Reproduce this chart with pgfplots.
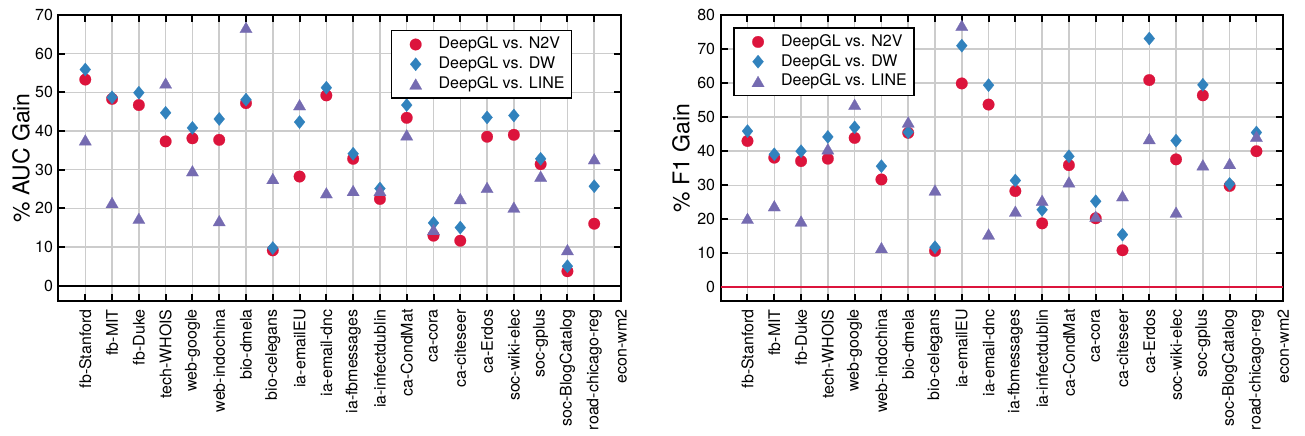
\documentclass[border=0pt]{standalone}
\usepackage{fontspec}
\setmainfont{TeX Gyre Heros}
\usepackage{pgfplots}
\usepackage{pgfplotstable}
\pgfplotsset{compat=1.18}
\definecolor{cN}{HTML}{DC143C}
\definecolor{cD}{HTML}{3182BD}
\definecolor{cL}{HTML}{756BB1}
\definecolor{gridgray}{HTML}{CCCCCC}

\pgfplotstableread{
idx n2v dw line
0 53.3 55.9 37.7
1 48.3 48.7 21.5
2 46.7 49.9 17.4
3 37.3 44.7 52.4
4 38.1 40.8 29.7
5 37.7 43.1 16.8
6 47.2 48.1 66.8
7 9.1 9.7 27.7
8 28.2 42.3 46.8
9 49.2 51.2 24.0
10 32.8 34.1 24.6
11 22.4 25.1 24.6
12 43.4 46.7 39.0
13 12.9 16.2 14.5
14 11.6 15.0 22.5
15 38.5 43.5 25.4
16 39.0 44.0 20.3
17 31.4 32.8 28.3
18 3.7 5.0 9.3
19 16.0 25.7 32.8
}\auc

\pgfplotstableread{
idx n2v dw line
0 43.0 45.9 20.3
1 38.1 39.1 24.0
2 37.1 40.0 19.5
3 37.8 44.2 40.7
4 43.9 47.0 53.8
5 31.7 35.6 11.7
6 45.4 45.6 48.6
7 10.7 11.8 28.6
8 59.9 71.0 77.0
9 53.7 59.4 15.7
10 28.3 31.4 22.4
11 18.8 22.8 25.6
12 35.9 38.5 31.0
13 20.3 25.3 20.9
14 10.9 15.5 26.9
15 60.9 73.1 43.7
16 37.6 43.1 22.1
17 56.4 59.5 36.0
18 29.8 30.4 36.4
19 40.0 45.5 44.4
}\fone

\pgfplotsset{
  gainaxis/.style={
    scale only axis,
    width=281.25pt, height=143pt,
    xmin=-1, xmax=20, ymin=-4,
    xtick={0,...,20},
    xticklabels={fb-Stanford,fb-MIT,fb-Duke,tech-WHOIS,web-google,web-indochina,bio-dmela,bio-celegans,ia-emailEU,ia-email-dnc,ia-fbmessages,ia-infectdublin,ca-CondMat,ca-cora,ca-citeseer,ca-Erdos,soc-wiki-elec,soc-gplus,soc-BlogCatalog,road-chicago-reg,econ-wm2},
    xticklabel style={rotate=90, anchor=east, inner xsep=4pt, font=\fontsize{8}{9}\selectfont},
    yticklabel style={font=\fontsize{8}{9}\selectfont, inner xsep=2.6pt},
    /pgf/number format/assume math mode=true,
    grid=major,
    major grid style={color=gridgray, line width=0.75pt},
    axis line style={black, line width=1pt},
    tick align=inside,
    major tick length=3.5pt,
    major tick style={black, line width=1pt},
    legend cell align=left,
    legend image code/.code={\path[draw=none, fill=none] (0pt,0pt) -- (20pt,0pt); \draw[mark repeat=2, mark phase=2] plot coordinates {(0pt,0pt) (10pt,0pt) (20pt,0pt)};},
    legend style={draw=black, line width=0.75pt, fill=white, inner xsep=2pt, inner ysep=2pt,
      font=\fontsize{8}{9}\selectfont, row sep=0pt, nodes={inner xsep=1.5pt, inner ysep=1.2pt}, anchor=north west},
  },
  sN/.style={only marks, color=cN, mark=*, mark size=2.9pt, mark options={solid, draw=cN, fill=cN, line width=0.1pt}},
  sD/.style={only marks, color=cD, mark=diamond*, mark size=3.3pt, mark options={solid, draw=cD, fill=cD, line width=0.1pt, xscale=1.1}},
  sL/.style={only marks, color=cL, mark=triangle*, mark size=3.55pt, mark options={solid, draw=cL, fill=cL, line width=0.1pt, yshift=-0.89pt}},
}

\begin{document}
\begin{tikzpicture}
\useasboundingbox (0,0) rectangle (652.5pt,217.5pt);
\begin{axis}[gainaxis, at={(29.25pt,67pt)}, anchor=south west,
  ymax=70, ytick={0,10,...,70},
  ylabel={\% AUC Gain},
  every axis y label/.style={at={(axis description cs:-0.0667,0.5)}, rotate=90, anchor=center, font=\fontsize{11.5}{13}\selectfont},
  legend style={at={(0.591,0.948)}}]
\addplot[color=black, line width=1pt, forget plot] coordinates {(-1,0) (20,0)};
\addplot[sN] table[x=idx, y=n2v] {\auc};
\addplot[sD] table[x=idx, y=dw] {\auc};
\addplot[sL] table[x=idx, y=line] {\auc};
\legend{DeepGL vs. N2V, DeepGL vs. DW, DeepGL vs. LINE}
\end{axis}
\begin{axis}[gainaxis, at={(360.35pt,67pt)}, anchor=south west,
  ymax=80, ytick={0,10,...,80},
  ylabel={\% F1 Gain},
  every axis y label/.style={at={(axis description cs:-0.0706,0.5)}, rotate=90, anchor=center, font=\fontsize{11.5}{13}\selectfont},
  legend style={at={(0.0224,0.957)}}]
\addplot[color=cN, line width=0.9pt, forget plot] coordinates {(-1,0) (20,0)};
\addplot[sN] table[x=idx, y=n2v] {\fone};
\addplot[sD] table[x=idx, y=dw] {\fone};
\addplot[sL] table[x=idx, y=line] {\fone};
\legend{DeepGL vs. N2V, DeepGL vs. DW, DeepGL vs. LINE}
\end{axis}
\end{tikzpicture}
\end{document}
